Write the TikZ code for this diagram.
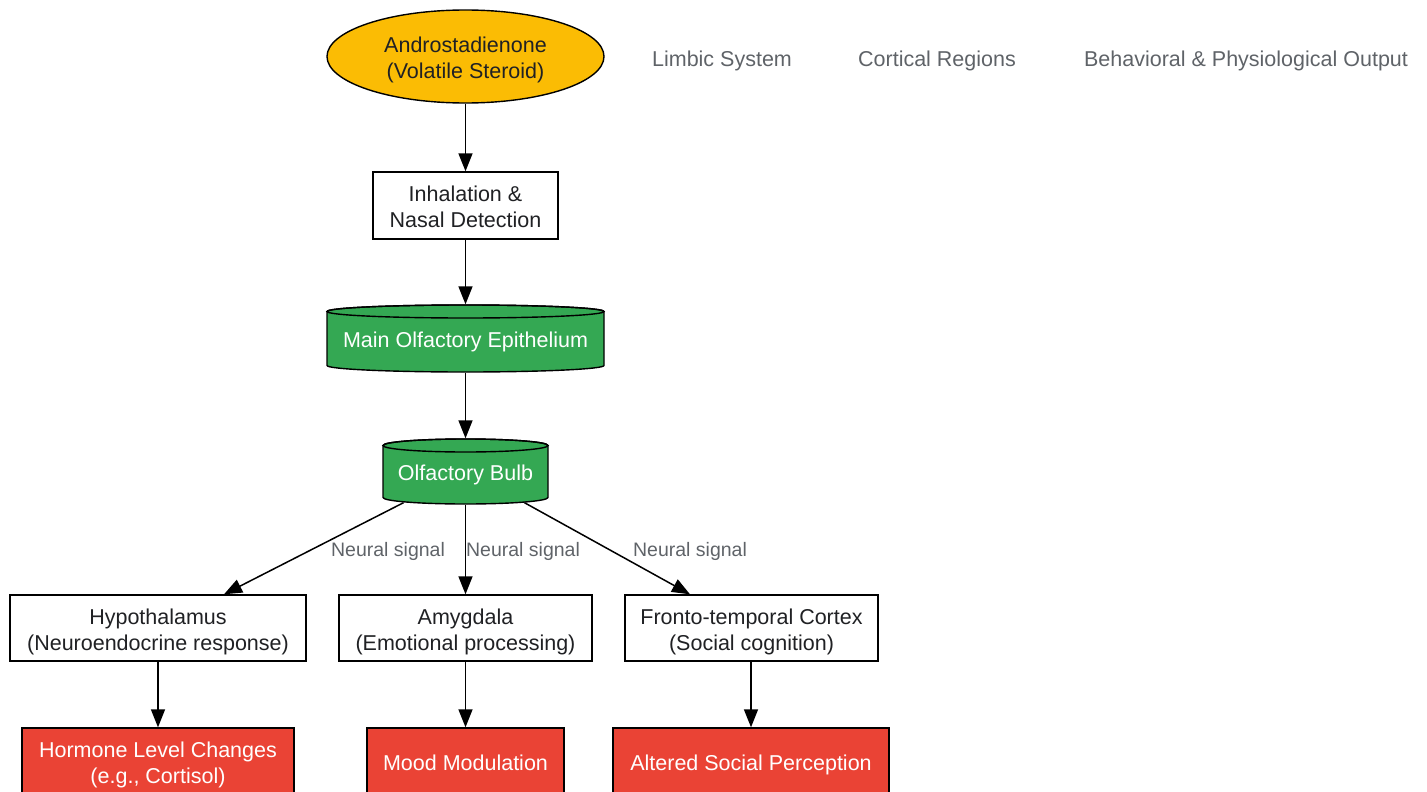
\documentclass[tikz,border=0pt]{standalone}
\usepackage{fontspec}
\setmainfont{Liberation Sans}
\usetikzlibrary{arrows.meta,shapes.geometric}
\definecolor{yel}{HTML}{FBBC04}
\definecolor{grn}{HTML}{34A853}
\definecolor{rd}{HTML}{EA4335}
\definecolor{txt}{HTML}{202124}
\definecolor{lbl}{HTML}{5F6368}
\newcommand\tp{\rule{0pt}{26pt}}
\newcommand\bt{\rule[-7.6pt]{0pt}{7.6pt}}
\begin{document}
\begin{tikzpicture}[x=1pt,y=-1pt,
 base/.style={font=\fontsize{21.5}{26}\selectfont, align=center, text=txt, inner sep=0pt, line width=1.4pt},
 box/.style={base, draw=black, fill=white, rectangle},
 redbox/.style={base, draw=black, fill=rd, text=white, rectangle},
 oval/.style={base, ellipse, draw=black, fill=yel},
 cylnode/.style={base, text=white, rectangle},
 cylbody/.style={fill=grn, draw=black, line width=1.4pt},
 arr/.style={-{Triangle[length=18pt,width=14pt]}, line width=1.5pt, draw=black},
 elab/.style={font=\fontsize{19.5}{23}\selectfont, text=lbl, inner sep=0pt},
 hdr/.style={font=\fontsize{21.5}{26}\selectfont, text=lbl, inner sep=0pt}]
\useasboundingbox (0,0) rectangle (1427,792);

% cylinders (drawn shapes)
\filldraw[cylbody] (327,311.5) -- (327,365.5) arc[start angle=180,end angle=360,x radius=138.5pt,y radius=6.5pt] -- (604,311.5) arc[start angle=0,end angle=180,x radius=138.5pt,y radius=6.5pt] -- cycle;
\draw[line width=1.4pt] (465.5,311.5) ellipse [x radius=138.5pt, y radius=6.5pt];
\filldraw[cylbody] (383,445.5) -- (383,497.5) arc[start angle=180,end angle=360,x radius=82.5pt,y radius=6.5pt] -- (548,445.5) arc[start angle=0,end angle=180,x radius=82.5pt,y radius=6.5pt] -- cycle;
\draw[line width=1.4pt] (465.5,445.5) ellipse [x radius=82.5pt, y radius=6.5pt];

% nodes
\node[oval, minimum width=277pt, minimum height=93pt] (andro) at (465.5,56.5) {\tp Androstadienone\\(Volatile Steroid)\bt};
\node[box, minimum width=185pt, minimum height=67pt] (inh) at (465.5,205.5) {\tp Inhalation \&\\Nasal Detection\bt};
\node[cylnode, minimum width=277pt, minimum height=67pt] (moe) at (465.5,338.5) {\tp Main Olfactory Epithelium\bt};
\node[cylnode, minimum width=165pt, minimum height=65pt] (bulb) at (465.5,471.5) {\tp Olfactory Bulb\bt};
\node[box, minimum width=296pt, minimum height=66pt] (hyp) at (158,628) {\tp Hypothalamus\\(Neuroendocrine response)\bt};
\node[box, minimum width=253pt, minimum height=66pt] (amy) at (465.5,628) {\tp Amygdala\\(Emotional processing)\bt};
\node[box, minimum width=253pt, minimum height=66pt] (fro) at (751.5,628) {\tp Fronto-temporal Cortex\\(Social cognition)\bt};
\node[redbox, minimum width=272pt, minimum height=66pt] (hor) at (158,761) {\tp Hormone Level Changes\\(e.g., Cortisol)\bt};
\node[redbox, minimum width=197pt, minimum height=66pt] (mood) at (465.5,761) {\tp Mood Modulation\bt};
\node[redbox, minimum width=276pt, minimum height=66pt] (alt) at (751,761) {\tp Altered Social Perception\bt};

% headers
\node[hdr] (h1) at (722,61) {Limbic System};
\node[hdr] (h2) at (937,61) {Cortical Regions};
\node[hdr] (h3) at (1246,61) {Behavioral \& Physiological Output};

% edges
\draw[arr] (andro.south) -- (inh.north);
\draw[arr] (inh.south) -- (moe.north);
\draw[arr] (moe.south) -- (bulb.north);
\draw[arr] ([shift={(-62pt,2pt)}]bulb.south) -- ([xshift=66pt]hyp.north);
\draw[arr] (bulb.south) -- (amy.north);
\draw[arr] ([shift={(59pt,2pt)}]bulb.south) -- ([xshift=-61.5pt]fro.north);
\draw[arr] (hyp.south) -- (hor.north);
\draw[arr] (amy.south) -- (mood.north);
\draw[arr] ([xshift=-0.5pt]fro.south) -- (alt.north);

% edge labels
\node[elab] (l1) at (388,551) {Neural signal};
\node[elab] (l2) at (523,551) {Neural signal};
\node[elab] (l3) at (690,551) {Neural signal};
\end{tikzpicture}
\end{document}
